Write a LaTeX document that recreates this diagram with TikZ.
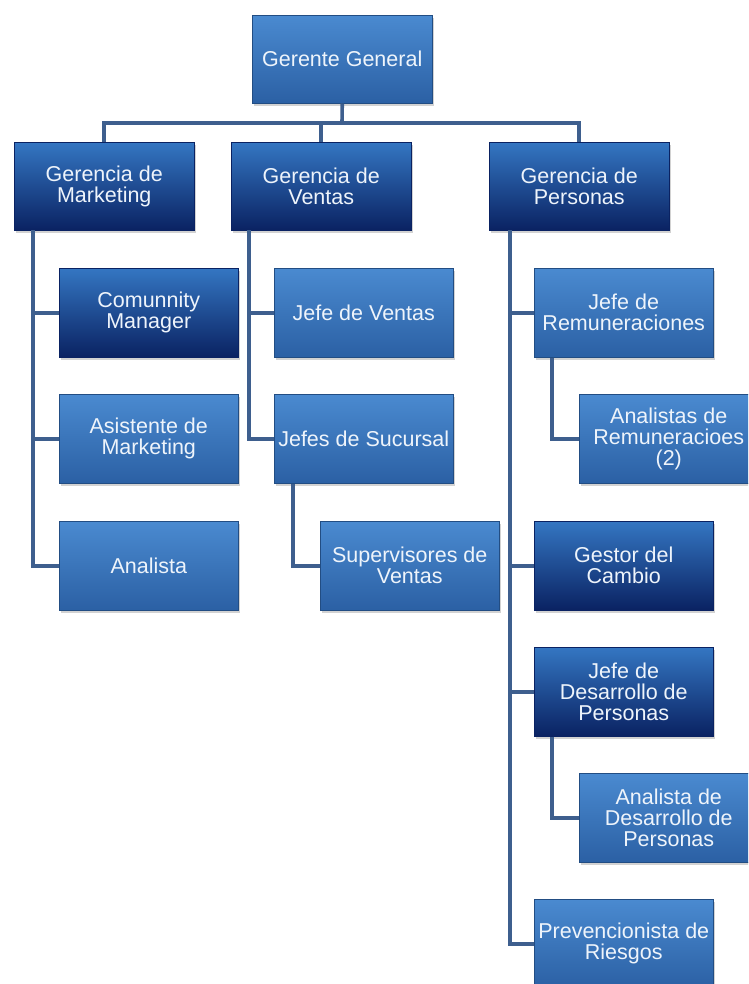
\documentclass[tikz,border=0pt]{standalone}
\usepackage{fontspec}
\setmainfont{Liberation Sans}
\usetikzlibrary{shadows,calc}
\definecolor{midtop}{HTML}{4A8AD0}
\definecolor{midbot}{HTML}{2B60A4}
\definecolor{darktop}{HTML}{3476C2}
\definecolor{darkmid}{HTML}{16418A}
\definecolor{darkbot}{HTML}{0A2262}
\definecolor{linec}{HTML}{3E5F8E}
\definecolor{textc}{HTML}{EEF4FB}
\tikzset{
  boxbase/.style={rectangle, inner sep=0pt, align=center, text=textc,
    font=\fontsize{21.5}{21}\selectfont, draw=midbot!80!black, line width=0.5pt,
    drop shadow={shadow xshift=2pt, shadow yshift=-3pt, opacity=0.35},
    minimum width=179pt, minimum height=89pt, anchor=north west},
  midbox/.style={boxbase, top color=midtop, bottom color=midbot},
  darkbox/.style={boxbase, top color=darktop, middle color=darkmid, bottom color=darkbot, draw=darkbot},
  conn/.style={draw=linec, line width=3.6pt, line join=miter},
}
\begin{document}
\begin{tikzpicture}[x=1pt,y=-1pt]
\fill[white] (0,0) rectangle (748,984);
\useasboundingbox (0,0) rectangle (748,984);
\clip (0,0) rectangle (748,984);
% top
\node[midbox, minimum width=180pt, minimum height=88pt] (gg) at (252,15) {Gerente General};
% level 2
\node[darkbox, minimum width=180pt, minimum height=88pt] (gm) at (14,142) {Gerencia de\\Marketing};
\node[darkbox, minimum width=180pt, minimum height=88pt] (gv) at (231,142) {Gerencia de\\Ventas};
\node[darkbox, minimum width=180pt, minimum height=88pt] (gp) at (489,142) {Gerencia de\\Personas};
% marketing
\node[darkbox] (cm) at (59,268) {Comunnity\\Manager};
\node[midbox] (am) at (59,394) {Asistente de\\Marketing};
\node[midbox] (an) at (59,521) {Analista};
% ventas
\node[midbox] (jv) at (274,268) {Jefe de Ventas};
\node[midbox] (js) at (274,394) {Jefes de Sucursal};
\node[midbox] (sv) at (320,521) {Supervisores de\\Ventas};
% personas
\node[midbox] (jr) at (534,268) {Jefe de\\Remuneraciones};
\node[midbox] (ar) at (579,394) {Analistas de\\Remuneracioes\\(2)};
\node[darkbox] (gc) at (534,521) {Gestor del\\Cambio};
\node[darkbox] (jd) at (534,647) {Jefe de\\Desarrollo de\\Personas};
\node[midbox] (ad) at (579,773) {Analista de\\Desarrollo de\\Personas};
\node[midbox] (pr) at (534,899) {Prevencionista de\\Riesgos};
% connectors
\coordinate (bar) at (342,123);
\draw[conn] (gg.south) -- (bar);
\draw[conn] (gm.north) |- (bar) -| (gp.north);
\draw[conn] (gv.north) -- (gv.north |- bar);
\coordinate (mL) at ($(gm.south west)+(19,0)$);
\draw[conn] (mL) |- (an.west);
\draw[conn] (mL |- cm.west) -- (cm.west);
\draw[conn] (mL |- am.west) -- (am.west);
\coordinate (vL) at ($(gv.south west)+(18,0)$);
\draw[conn] (vL) |- (js.west);
\draw[conn] (vL |- jv.west) -- (jv.west);
\coordinate (sL) at ($(js.south west)+(19,0)$);
\draw[conn] (sL) |- (sv.west);
\coordinate (pL) at ($(gp.south west)+(21,0)$);
\draw[conn] (pL) |- (pr.west);
\draw[conn] (pL |- jr.west) -- (jr.west);
\draw[conn] (pL |- gc.west) -- (gc.west);
\draw[conn] (pL |- jd.west) -- (jd.west);
\coordinate (rL) at ($(jr.south west)+(18,0)$);
\draw[conn] (rL) |- (ar.west);
\coordinate (dL) at ($(jd.south west)+(18,0)$);
\draw[conn] (dL) |- (ad.west);
\end{tikzpicture}
\end{document}
